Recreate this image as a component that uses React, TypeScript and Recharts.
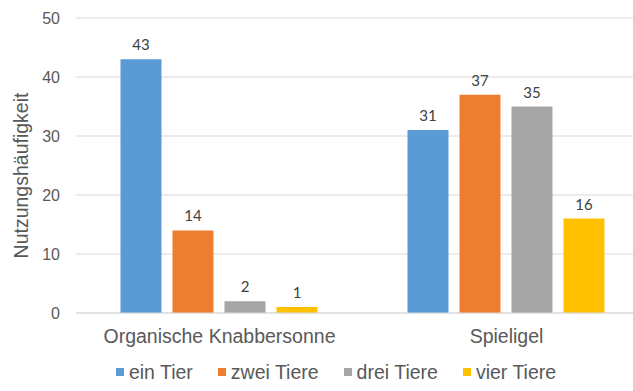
import { BarChart, Bar, XAxis, YAxis, CartesianGrid, Legend, LabelList } from 'recharts';

const categories = ['Organische Knabbersonne', 'Spieligel'];
const seriesNames = ['ein Tier', 'zwei Tiere', 'drei Tiere', 'vier Tiere'];
const einTier = [43, 31];
const zweiTiere = [14, 37];
const dreiTiere = [2, 35];
const vierTiere = [1, 16];
const yTicks = [0, 10, 20, 30, 40, 50];

const colors = ['#5B9BD5', '#ED7D31', '#A5A5A5', '#FFC000'];
const keys = ['s0', 's1', 's2', 's3'];

const chartData = categories.map((name, i) => ({
  name,
  s0: einTier[i],
  s1: zweiTiere[i],
  s2: dreiTiere[i],
  s3: vierTiere[i],
}));

const axisFont = '"Liberation Sans", Arial, sans-serif';
const textColor = '#595959';

function ChartLegend() {
  return (
    <div
      style={{
        height: 38,
        display: 'flex',
        justifyContent: 'center',
        alignItems: 'center',
        fontFamily: axisFont,
        fontSize: 19.5,
        color: textColor,
        paddingLeft: 22,
      }}
    >
      {seriesNames.map((n, i) => (
        <span key={n} style={{ display: 'flex', alignItems: 'center', marginRight: i < 3 ? 25 : 0 }}>
          <span style={{ width: 8, height: 8, background: colors[i], marginRight: 5, display: 'inline-block' }} />
          {n}
        </span>
      ))}
    </div>
  );
}

function YLabel({ viewBox }: any) {
  const cy = viewBox.y + viewBox.height / 2 + 10;
  return (
    <text
      x={21}
      y={cy}
      transform={`rotate(-90, 21, ${cy})`}
      textAnchor="middle"
      dominantBaseline="central"
      fill={textColor}
      fontSize={19.5}
      fontFamily={axisFont}
    >
      Nutzungshäufigkeit
    </text>
  );
}

export default function App() {
  return (
    <div style={{ position: 'fixed', left: 0, top: 0, width: 633, height: 391, overflow: 'hidden', background: '#fff' }}>
      <BarChart
        width={652}
        height={391}
        data={chartData}
        margin={{ top: 18, right: 2, bottom: 0, left: 0 }}
        barGap={11}
        barCategoryGap="15.5%"
      >
        <CartesianGrid vertical={false} stroke="#D9D9D9" />
        <XAxis
          dataKey="name"
          height={40}
          tickLine={false}
          axisLine={{ stroke: '#D9D9D9' }}
          tickMargin={10}
          tick={{ fontSize: 19.5, fill: textColor, fontFamily: axisFont }}
        />
        <YAxis
          width={76}
          domain={[0, 50]}
          ticks={yTicks}
          tickLine={false}
          axisLine={false}
          tickMargin={10}
          tick={{ fontSize: 16, fill: textColor, fontFamily: axisFont }}
          label={<YLabel />}
        />
        <Legend verticalAlign="bottom" content={() => <ChartLegend />} />
        {keys.map((k, i) => (
          <Bar key={k} dataKey={k} name={seriesNames[i]} fill={colors[i]} isAnimationActive={false}>
            <LabelList
              dataKey={k}
              position="top"
              offset={9}
              fill="#404040"
              fontSize={15}
              fontFamily='Lato, "Open Sans", sans-serif'
            />
          </Bar>
        ))}
      </BarChart>
    </div>
  );
}
